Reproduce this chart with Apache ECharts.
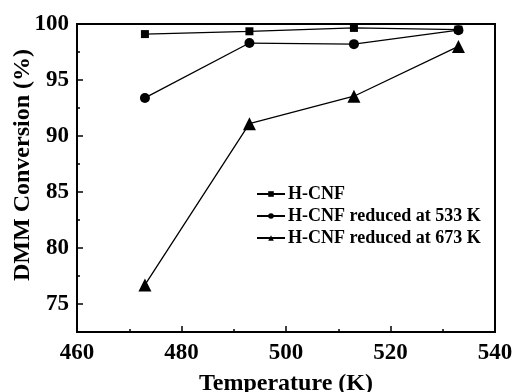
<!DOCTYPE html>
<html><head><meta charset="utf-8">
<script src="https://cdn.jsdelivr.net/npm/echarts@6/dist/echarts.min.js"></script>
<style>html,body{margin:0;padding:0;background:#fff}#c{width:514px;height:392px}</style>
</head><body><div id="c"></div>
<script>
const temperatures = [473, 493, 513, 533];
const hcnf = [99.1, 99.35, 99.65, 99.5];
const hcnf533 = [93.4, 98.3, 98.2, 99.45];
const hcnf673 = [76.7, 91.1, 93.55, 98.0];
const seriesNames = ['H-CNF', 'H-CNF reduced at 533 K', 'H-CNF reduced at 673 K'];
const yMajorTicks = [75, 80, 85, 90, 95, 100];
const yMinorTicks = [72.5, 77.5, 82.5, 87.5, 92.5, 97.5];

const font = '"Liberation Serif", "Times New Roman", serif';
const chart = echarts.init(document.getElementById('c'));
function pairs(v){ return temperatures.map((t,i)=>[t, v[i]]); }
const lineBase = {type:'line', lineStyle:{color:'#000', width:1.3}, itemStyle:{color:'#000'}, z:3};
chart.setOption({
  animation:false,
  backgroundColor:'#fff',
  grid:{left:77, top:24, width:418, height:308, show:true, borderColor:'#000', borderWidth:2, backgroundColor:'transparent', containLabel:false, outerBoundsMode:'none'},
  legend:{
    left:251, top:180, orient:'vertical', itemGap:4, itemWidth:28, itemHeight:7,
    textStyle:{fontFamily:font, fontWeight:'bold', fontSize:18, color:'#000', padding:[0,0,0,-2]},
    data:seriesNames
  },
  xAxis:{
    type:'value', min:460, max:540, interval:20,
    name:'Temperature (K)', nameLocation:'middle', nameGap:40, nameMoveOverlap:false,
    nameTextStyle:{fontFamily:font, fontWeight:'bold', fontSize:24, color:'#000'},
    axisLine:{lineStyle:{color:'#000', width:2}},
    axisTick:{inside:true, length:6, lineStyle:{color:'#000', width:1.5}},
    minorTick:{show:true, splitNumber:2, length:3, lineStyle:{color:'#000', width:1.5}},
    splitLine:{show:false},
    axisLabel:{fontFamily:font, fontWeight:'bold', fontSize:23, color:'#000', margin:10}
  },
  yAxis:[{
    type:'value', min:72.5, max:100,
    name:'DMM Conversion (%)', nameLocation:'middle', nameGap:42, nameMoveOverlap:false,
    nameTextStyle:{fontFamily:font, fontWeight:'bold', fontSize:24, color:'#000', padding:[0,0,0,26]},
    axisLine:{lineStyle:{color:'#000', width:2}},
    axisTick:{inside:true, length:6, customValues:yMajorTicks, lineStyle:{color:'#000', width:1.5}},
    splitLine:{show:false},
    axisLabel:{fontFamily:font, fontWeight:'bold', fontSize:23, color:'#000', margin:8, customValues:yMajorTicks}
  },{
    type:'value', min:72.5, max:100, position:'left',
    axisLine:{show:false},
    axisTick:{inside:true, length:3, customValues:yMinorTicks, lineStyle:{color:'#000', width:1.5}},
    splitLine:{show:false},
    axisLabel:{show:false}
  }],
  series:[
    Object.assign({}, lineBase, {name:seriesNames[0], data:pairs(hcnf), symbol:'rect', symbolSize:8}),
    Object.assign({}, lineBase, {name:seriesNames[1], data:pairs(hcnf533), symbol:'circle', symbolSize:10}),
    Object.assign({}, lineBase, {name:seriesNames[2], data:pairs(hcnf673), symbol:'triangle', symbolSize:13})
  ]
});
</script></body></html>
